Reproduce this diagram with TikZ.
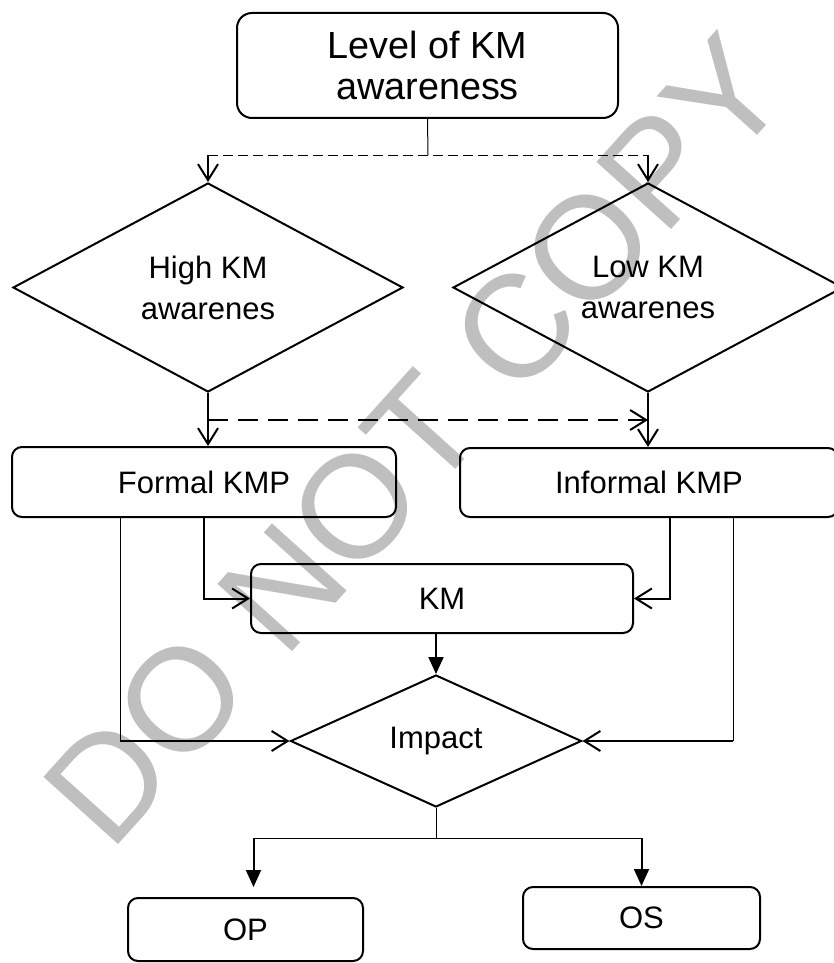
\documentclass[tikz,border=0pt]{standalone}
\usepackage{fontspec}
\setmainfont{Liberation Sans}
\usetikzlibrary{positioning,arrows.meta,shapes.geometric}
\tikzset{
  rbox/.style={draw,line width=1pt,rounded corners=5pt,align=center,inner sep=0pt,font=\fontsize{15.5}{20.5}\selectfont},
  dmd/.style={draw,diamond,line width=1pt,aspect=2,align=center,inner sep=0pt,font=\fontsize{15.5}{20.5}\selectfont},
  ln/.style={line width=1pt},
  thinln/.style={line width=0.5pt},
  openarr/.style={-{Straight Barb[length=8pt,width=10pt]}},
  fillarr/.style={-{Triangle[length=8.5pt,width=7.5pt]}},
  wmark/.style={text=black!25,rotate=48,inner sep=0pt,font=\fontsize{73}{73}\selectfont}
}

\begin{document}
\begin{tikzpicture}[x=0.5pt,y=-0.5pt]
  \useasboundingbox (0,0) rectangle (834,963);
  \node[wmark] (wm) at (415,440) {DO NOT COPY};

  \node[rbox,rounded corners=7.5pt,minimum width=190.5pt,minimum height=52.5pt,
        font=\fontsize{18.9}{20.5}\selectfont] (lvl) at (427.5,65.5) {Level of KM\\awareness};
  \node[dmd,minimum width=195pt,minimum height=104.5pt] (high) at (208,287.5) {High KM\\awarenes};
  \node[dmd,minimum width=195pt,minimum height=104.5pt] (low) at (648,287.5) {Low KM\\awarenes};
  \node[rbox,minimum width=192pt,minimum height=35pt] (formal) at (204,482) {Formal KMP};
  \node[rbox,minimum width=189pt,minimum height=34.5pt] (informal) at (649,482.5) {Informal KMP};
  \node[rbox,minimum width=191pt,minimum height=34.5pt] (km) at (442,598.5) {KM};
  \node[dmd,minimum width=145.5pt,minimum height=66pt] (impact) at (436,741) {Impact};
  \node[rbox,minimum width=117.5pt,minimum height=31.5pt] (op) at (245.5,929.5) {OP};
  \node[rbox,minimum width=118.5pt,minimum height=31pt] (os) at (641.5,918) {OS};

  % split under the top box
  \coordinate (s1) at (428,155);
  \draw[thinln] (lvl.south) -- (s1);
  \draw[thinln,dash pattern=on 5pt off 2.5pt] (s1 -| high.north) -- (s1 -| low.north);
  \draw[ln,openarr] (s1 -| high.north) -- (high.north);
  \draw[ln,openarr] (s1 -| low.north) -- (low.north);

  \draw[ln,openarr] (high.south) -- (high.south |- formal.north);
  \draw[ln,openarr] (low.south) -- (low.south |- informal.north);
  \coordinate (d1) at (208,420);
  \draw[ln,dash pattern=on 10pt off 5pt,openarr] (d1) -- (d1 -| low.south);

  % into KM
  \coordinate (iin) at ([xshift=10.5pt]informal.south);
  \draw[ln,openarr] (formal.south) |- (km.west);
  \draw[ln,openarr] (iin) |- (km.east);

  % outer lines into Impact
  \coordinate (fout) at ([xshift=-42pt]formal.south);
  \coordinate (iout) at ([xshift=42pt]informal.south);
  \draw[thinln] (fout) -- (fout |- impact.west);
  \draw[ln,openarr] (fout |- impact.west) -- (impact.west);
  \draw[thinln] (iout) -- (iout |- impact.east);
  \draw[ln,openarr] (iout |- impact.east) -- (impact.east);
  \draw[ln,fillarr] (impact.north |- km.south) -- (impact.north);

  % split to OP and OS
  \coordinate (s2) at (436,838);
  \coordinate (opin) at ([xshift=4pt]op.north);
  \draw[thinln] (impact.south) -- (s2);
  \draw[thinln] (opin |- s2) -- (os.north |- s2);
  \draw[ln,fillarr,shorten >=5pt] (opin |- s2) -- (opin);
  \draw[ln,fillarr] (os.north |- s2) -- (os.north);
\end{tikzpicture}
\end{document}
